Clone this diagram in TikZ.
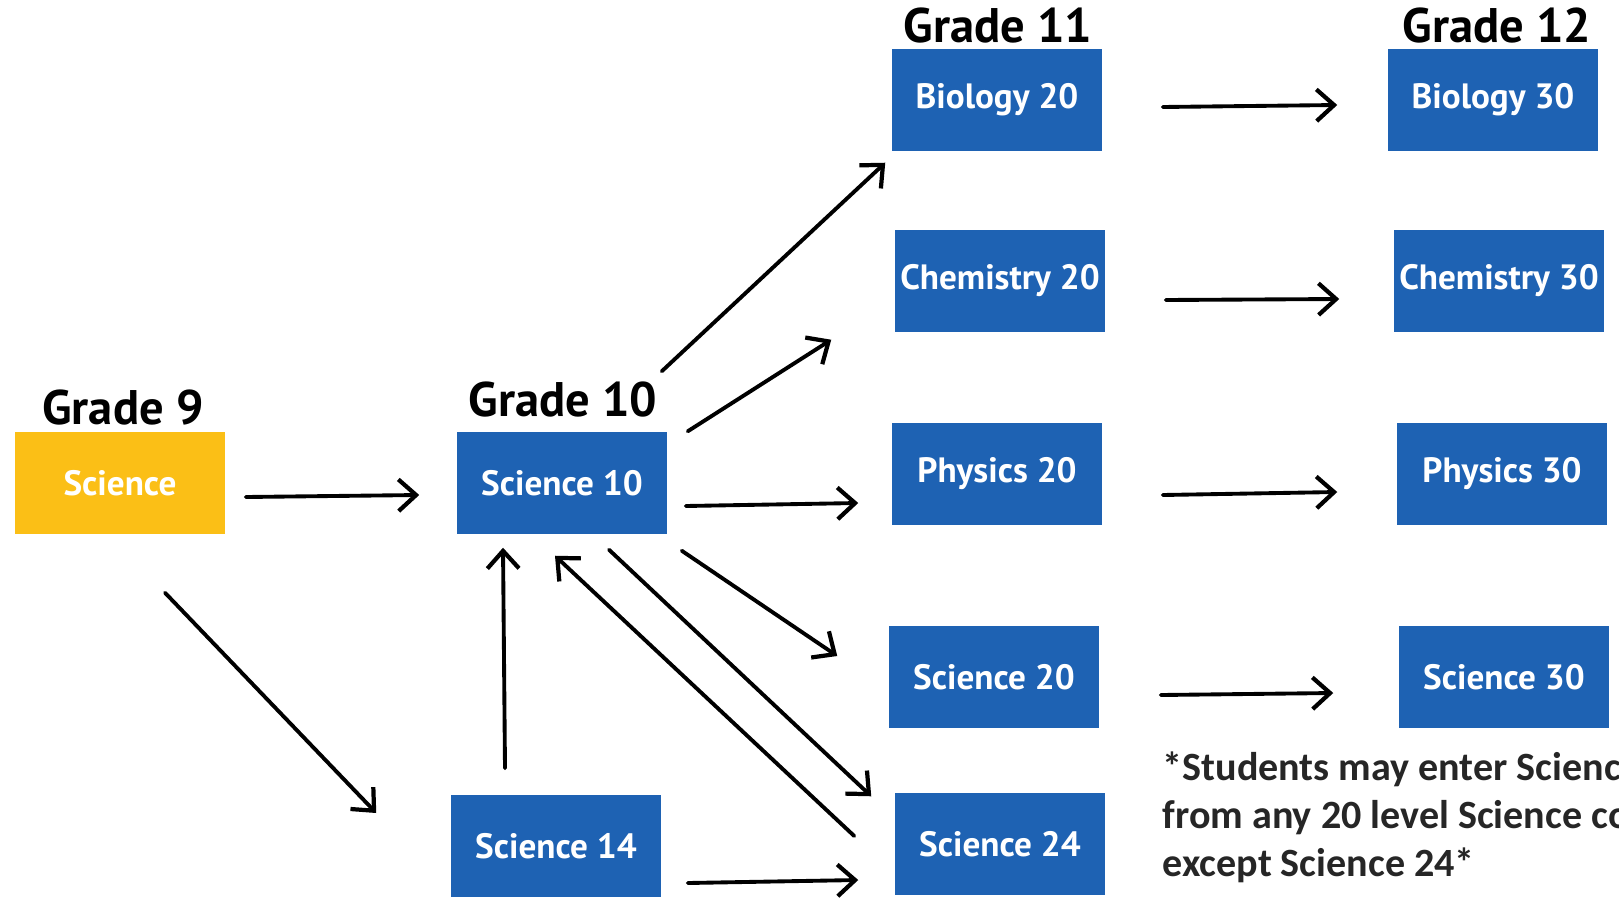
\documentclass[tikz,border=0pt]{standalone}
\usepackage{fontspec}
\setmainfont{PT Sans}
\newfontfamily\notefont{Carlito}
\usetikzlibrary{calc,arrows.meta}
\definecolor{courseblue}{HTML}{1E62B3}
\definecolor{gradeyellow}{HTML}{FBBF16}
\tikzset{>={Straight Barb[length=5pt,width=9pt,line width=1.2pt]}}
\tikzset{
  course/.style={fill=courseblue, text=white, minimum width=2.1cm, minimum height=1.02cm,
    inner sep=0pt, font=\fontsize{10}{11}\selectfont\bfseries},
  grade/.style={font=\fontsize{13.8}{15}\selectfont\bfseries},
  arr/.style={->, line width=1.1pt, line cap=round}
}

\begin{document}
\begin{tikzpicture}[x=0.01cm, y=-0.01cm]
    \useasboundingbox (0,0) rectangle (1619,897);
    % grade 9 and 10
    \node[course, fill=gradeyellow] (sci9) at (120,483) {Science};
    \node[course] (s10) at (562,483) {Science 10};
    \node[course] (s14) at (556,846) {Science 14};
    % grade 11
    \node[course] (bio20) at (997,100) {Biology 20};
    \node[course] (chem20) at (1000,281) {Chemistry 20};
    \node[course] (phy20) at (997,474) {Physics 20};
    \node[course] (s20) at (994,677) {Science 20};
    \node[course] (s24) at (1000,844) {Science 24};
    % grade 12
    \node[course] (bio30) at (1493,100) {Biology 30};
    \node[course] (chem30) at (1499,281) {Chemistry 30};
    \node[course] (phy30) at (1502,474) {Physics 30};
    \node[course] (s30) at (1504,677) {Science 30};
    \node[grade] (g9) at (123,408) {Grade 9};
    \node[grade] (g10) at (563,400) {Grade 10};
    \node[grade] (g11) at (998,26) {Grade 11};
    \node[grade] (g12) at (1497,26) {Grade 12};
    \begin{scope}
    \clip (0,0) rectangle (1619,897);
    \node[anchor=north west, align=left, text=black!85, inner sep=0pt,
      font=\notefont\fontsize{11.4}{13.6}\selectfont\bfseries] (note) at (1162,751)
      {*Students may enter Science 30\\from any 20 level Science course\\except Science 24*};
    \end{scope}
    \draw[arr] ($(sci9.east)+(20,14)$) -- ($(s10.west)+(-37,12)$);
    \draw[arr] ($(sci9.south)+(45,58)$) -- ($(s14.west)+(-74,-33)$);
    \draw[arr] ($(s14.north)+(-51,-26)$) -- ($(s10.south)+(-59,13)$);
    \draw[arr] ($(s10.north east)+(-6,-60)$) -- ($(bio20.south west)+(-6,11)$);
    \draw[arr] ($(s10.north east)+(20,0)$) -- ($(chem20.south west)+(-63,7)$);
    \draw[arr] ($(s10.east)+(18,23)$) -- ($(phy20.west)+(-33,29)$);
    \draw[arr] ($(s10.south east)+(14,16)$) -- ($(s20.west)+(-51,-21)$);
    \draw[arr] ($(s10.south)+(47,15)$) -- ($(s24.north west)+(-23,4)$);
    \draw[arr] ($(s24.west)+(-40,-8)$) -- ($(s10.south)+(-7,21)$);
    \draw[arr] ($(s14.east)+(26,37)$) -- ($(s24.west)+(-36,36)$);
    \draw[arr] ($(bio20.east)+(60,7)$) -- ($(bio30.west)+(-50,5)$);
    \draw[arr] ($(chem20.east)+(60,19)$) -- ($(chem30.west)+(-54,18)$);
    \draw[arr] ($(phy20.east)+(60,21)$) -- ($(phy30.west)+(-59,18)$);
    \draw[arr] ($(s20.east)+(61,18)$) -- ($(s30.west)+(-65,16)$);
\end{tikzpicture}
\end{document}
